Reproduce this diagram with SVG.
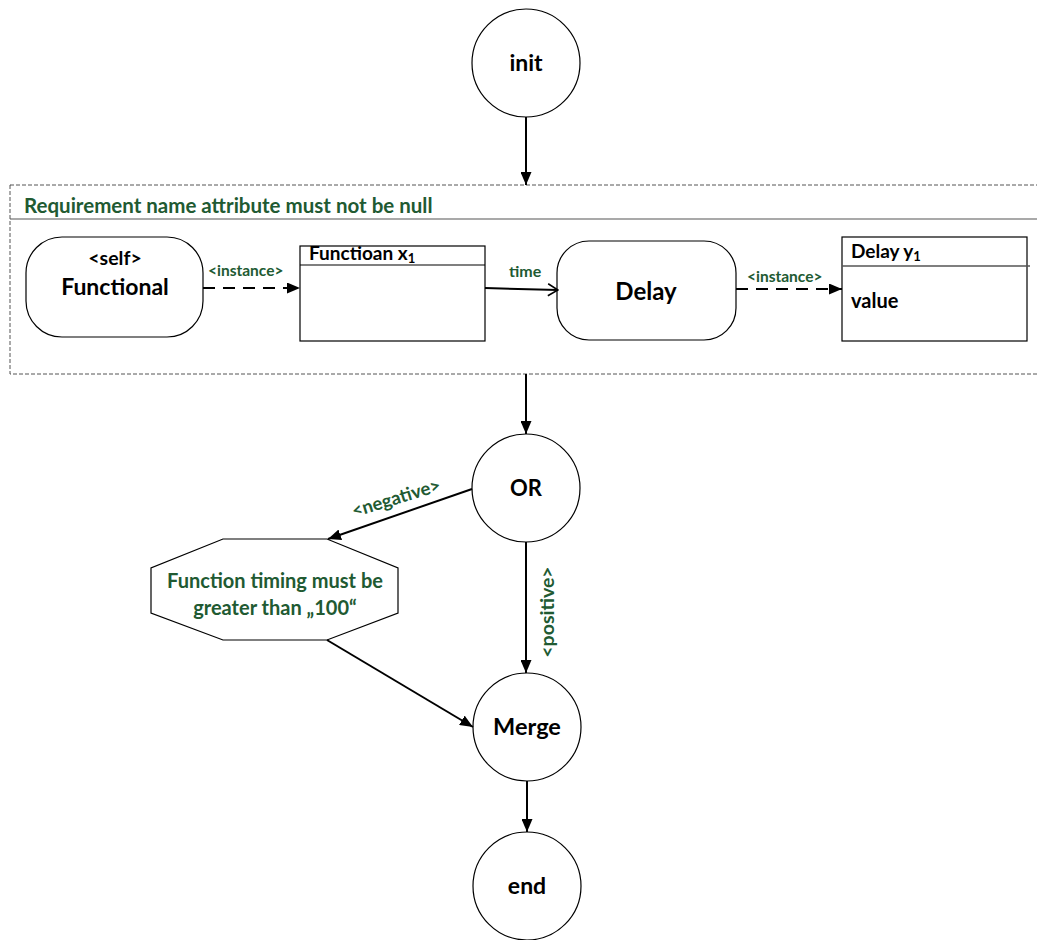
<svg xmlns="http://www.w3.org/2000/svg" width="1037" height="940" viewBox="0 0 1037 940">
  <defs>
    <marker id="arrow" markerWidth="13" markerHeight="11" refX="13" refY="5.5" orient="auto" markerUnits="userSpaceOnUse">
      <path d="M0,0 L13,5.5 L0,11 Z" fill="#000"/>
    </marker>
    <marker id="open" markerWidth="12" markerHeight="14" refX="11" refY="7" orient="auto" markerUnits="userSpaceOnUse">
      <path d="M1,1 L11,7 L1,13" fill="none" stroke="#000" stroke-width="1.6"/>
    </marker>
  </defs>
  <style>
    .shape { fill: #fff; stroke: #000; stroke-width: 1.2; }
    .node { font-family: Lato, "Open Sans", sans-serif; font-weight: bold; fill: #000; text-anchor: middle; }
    .attr { font-family: Lato, "Open Sans", sans-serif; font-weight: bold; fill: #000; text-anchor: start; }
    .lbl { font-family: Lato, "Open Sans", sans-serif; font-weight: bold; fill: #215a32; }
    .mid { text-anchor: middle; }
    .edge { stroke: #000; stroke-width: 2; fill: none; }
    .dash { stroke-dasharray: 12 8; }
  </style>
  <rect width="1037" height="940" fill="#fff"/>

  <!-- container: requirement scope -->
  <g id="requirement">
    <rect x="10" y="185" width="1040" height="189" fill="none" stroke="#555" stroke-width="1" stroke-dasharray="4 2"/>
    <line x1="10" y1="219" x2="1037" y2="219" stroke="#555" stroke-width="1.2"/>
    <text class="lbl" x="24" y="213" font-size="20.5">Requirement name attribute must not be null</text>
  </g>

  <g id="init">
    <circle class="shape" cx="526" cy="63" r="54"/>
    <text class="node" x="526" y="71" font-size="23">init</text>
  </g>

  <g id="functional">
    <rect class="shape" x="26" y="237" width="177" height="100" rx="36"/>
    <text class="node" x="115" y="265" font-size="19.5">&lt;self&gt;</text>
    <text class="node" x="115" y="295" font-size="23">Functional</text>
  </g>

  <g id="function-x1">
    <rect class="shape" x="300" y="246" width="185" height="95"/>
    <line x1="300" y1="265" x2="485" y2="265" stroke="#000" stroke-width="1.2"/>
    <text class="attr" x="309" y="260" font-size="19">Functioan x<tspan font-size="13" dy="3">1</tspan></text>
  </g>

  <g id="delay">
    <rect class="shape" x="557" y="241" width="179" height="99" rx="32"/>
    <text class="node" x="646" y="300" font-size="24">Delay</text>
  </g>

  <g id="delay-y1">
    <rect class="shape" x="842" y="237" width="185" height="104"/>
    <line x1="842" y1="266" x2="1030" y2="266" stroke="#555" stroke-width="1.5"/>
    <text class="attr" x="851" y="258" font-size="19">Delay y<tspan font-size="13" dy="3">1</tspan></text>
    <text class="attr" x="851" y="308" font-size="20">value</text>
  </g>

  <g id="or">
    <circle class="shape" cx="526" cy="488" r="54"/>
    <text class="node" x="526" y="496" font-size="22">OR</text>
  </g>

  <g id="timing-check">
    <polygon class="shape" points="223,539 327,539 398,568 398,613 327,640 223,640 151,613 151,568"/>
    <text class="lbl mid" x="275" y="588" font-size="20">Function timing must be</text>
    <text class="lbl mid" x="275" y="615" font-size="20">greater than „100“</text>
  </g>

  <g id="merge">
    <circle class="shape" cx="527" cy="727" r="54"/>
    <text class="node" x="527" y="735" font-size="23.5">Merge</text>
  </g>

  <g id="end">
    <circle class="shape" cx="527" cy="886" r="54"/>
    <text class="node" x="527" y="894" font-size="23">end</text>
  </g>

  <!-- connectors -->
  <g id="connectors">
    <line class="edge" x1="526" y1="117" x2="526" y2="185" marker-end="url(#arrow)"/>
    <line class="edge dash" x1="203" y1="288" x2="300" y2="288" marker-end="url(#arrow)"/>
    <text class="lbl" x="208" y="276" font-size="15.5">&lt;instance&gt;</text>
    <line class="edge" x1="485" y1="288" x2="558" y2="290" marker-end="url(#open)"/>
    <text class="lbl" x="509" y="277" font-size="16">time</text>
    <line class="edge dash" x1="736" y1="289" x2="842" y2="289" marker-end="url(#arrow)"/>
    <text class="lbl" x="747" y="282" font-size="15.5">&lt;instance&gt;</text>
    <line class="edge" x1="526" y1="374" x2="526" y2="434" marker-end="url(#arrow)"/>
    <line class="edge" x1="472" y1="489" x2="328" y2="539" marker-end="url(#arrow)"/>
    <text class="lbl mid" x="0" y="0" font-size="18.5" transform="translate(398,504) rotate(-17)">&lt;negative&gt;</text>
    <line class="edge" x1="526" y1="542" x2="526" y2="673" marker-end="url(#arrow)"/>
    <text class="lbl mid" x="0" y="0" font-size="19.5" transform="translate(554,612) rotate(-90)">&lt;positive&gt;</text>
    <line class="edge" x1="327" y1="640" x2="473" y2="727" marker-end="url(#arrow)"/>
    <line class="edge" x1="527" y1="781" x2="527" y2="832" marker-end="url(#arrow)"/>
  </g>
</svg>
